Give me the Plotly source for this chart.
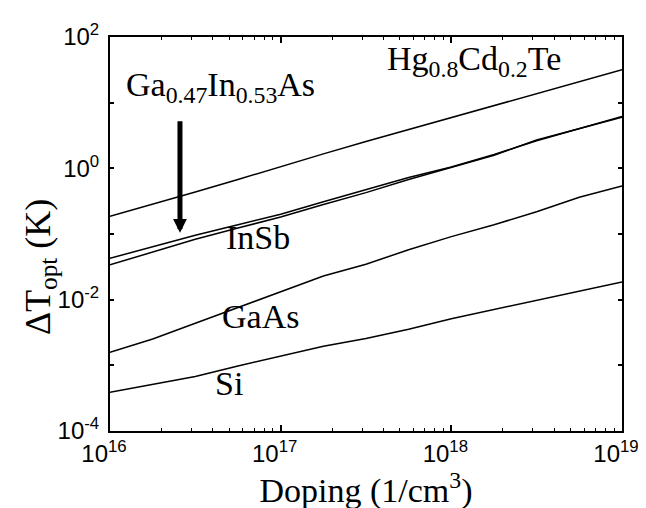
import plotly.graph_objects as go

doping = [1.0e16, 1.78e16, 3.16e16, 5.62e16, 1.0e17, 1.78e17, 3.16e17, 5.62e17,
          1.0e18, 1.78e18, 3.16e18, 5.62e18, 1.0e19]

hgcdte = [0.186, 0.282, 0.437, 0.676, 1.072, 1.660, 2.570, 3.890, 5.888, 8.913, 13.49, 20.42, 31.62]
gainas = [0.0427, 0.0646, 0.0955, 0.138, 0.200, 0.309, 0.479, 0.724, 1.047, 1.622, 2.630, 4.074, 6.166]
insb = [0.0339, 0.0537, 0.0832, 0.123, 0.182, 0.282, 0.427, 0.676, 1.023, 1.585, 2.692, 3.981, 6.026]
gaas = [1.585e-3, 2.512e-3, 4.365e-3, 7.586e-3, 0.01318, 0.02291, 0.03467, 0.05754,
        0.09120, 0.1380, 0.2188, 0.3631, 0.5370]
si = [3.890e-4, 5.129e-4, 6.761e-4, 9.772e-4, 1.380e-3, 1.950e-3, 2.570e-3, 3.548e-3,
      5.129e-3, 7.079e-3, 9.550e-3, 0.01349, 0.01862]

series = [("Hg0.8Cd0.2Te", hgcdte), ("Ga0.47In0.53As", gainas), ("InSb", insb),
          ("GaAs", gaas), ("Si", si)]

x_tickvals = [1e16, 1e17, 1e18, 1e19]
x_ticktext = ["10<sup>16</sup>", "10<sup>17</sup>", "10<sup>18</sup>", "10<sup>19</sup>"]
y_tickvals = [1e-4, 1e-3, 1e-2, 1e-1, 1e0, 1e1, 1e2]
y_ticktext = ["10<sup>-4</sup>", "", "10<sup>-2</sup>", "", "10<sup>0</sup>", "", "10<sup>2</sup>"]

# curve labels: (text, log10 x, log10 y)
labels = [
    ("Hg<sub>0.8</sub>Cd<sub>0.2</sub>Te", 18.13, 1.64),
    ("Ga<sub>0.47</sub>In<sub>0.53</sub>As", 16.645, 1.24),
    ("InSb", 16.865, -1.06),
    ("GaAs", 16.88, -2.26),
    ("Si", 16.70, -3.27),
]

serif = "'Liberation Serif', 'Times New Roman', Times, serif"
sans = "'Liberation Sans', Arial, Helvetica, sans-serif"

fig = go.Figure()
for name, vals in series:
    fig.add_trace(go.Scatter(x=doping, y=vals, mode="lines", name=name,
                             line=dict(color="black", width=1.5), showlegend=False))

annotations = []
for text, lx, ly in labels:
    annotations.append(dict(x=lx, y=ly, xref="x", yref="y", text=text, showarrow=False,
                            font=dict(family=serif, size=34, color="black"),
                            xanchor="center", yanchor="middle"))

# arrow pointing at the Ga0.47In0.53As curve
annotations.append(dict(x=16.41, y=-0.98, xref="x", yref="y", ax=16.41, ay=0.74,
                        axref="x", ayref="y", text="", showarrow=True, arrowhead=2,
                        arrowsize=0.55, arrowwidth=5, arrowcolor="black"))

# y-axis title
annotations.append(dict(x=0, y=0.416, xref="paper", yref="paper", xshift=-70,
                        text="ΔT<sub>opt</sub> (K)", textangle=-90, showarrow=False,
                        font=dict(family=serif, size=36, color="black"),
                        xanchor="center", yanchor="middle"))

fig.update_layout(
    width=646, height=508,
    margin=dict(l=102, r=32, t=26, b=85),
    paper_bgcolor="white", plot_bgcolor="white",
    font=dict(family=sans, color="black"),
    annotations=annotations,
    xaxis=dict(
        type="log", range=[16, 19],
        tickvals=x_tickvals, ticktext=x_ticktext,
        ticks="inside", ticklen=6, tickwidth=1.5, tickcolor="black",
        minor=dict(ticks="inside", ticklen=3, tickwidth=1, tickcolor="black", dtick="D1"),
        showline=True, linewidth=2, linecolor="black", mirror="ticks",
        showgrid=False, zeroline=False,
        ticklabelshift=-6,
        tickfont=dict(family=sans, size=24, color="black"),
        title=dict(text="Doping (1/cm<sup>3</sup>)", font=dict(family=serif, size=34, color="black"),
                   standoff=4),
    ),
    yaxis=dict(
        type="log", range=[-4, 2],
        tickvals=y_tickvals, ticktext=y_ticktext,
        ticks="inside", ticklen=4, tickwidth=1.5, tickcolor="black",
        showline=True, linewidth=2, linecolor="black", mirror="ticks",
        showgrid=False, zeroline=False,
        ticklabelstandoff=4,
        tickfont=dict(family=sans, size=24, color="black"),
    ),
)

fig.write_html("out.html")
